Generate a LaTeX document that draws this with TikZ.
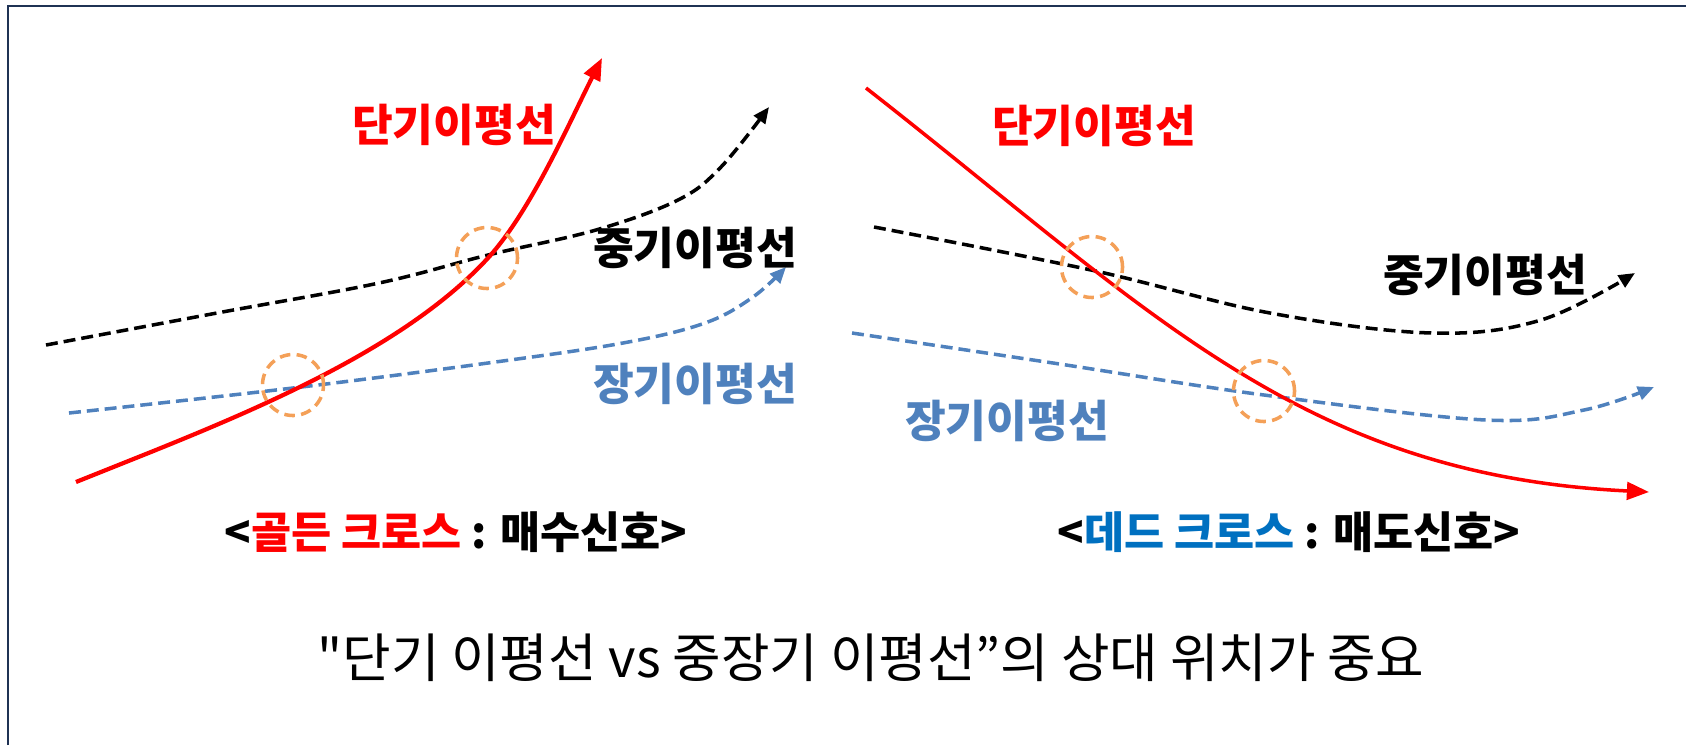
\documentclass[tikz,border=0pt]{standalone}
\usepackage{fontspec}
\setmainfont{Noto Sans CJK KR}[Ligatures=TeXOff]
\usetikzlibrary{arrows.meta}
\definecolor{cdangi}{RGB}{255,0,0}
\definecolor{cjanggi}{RGB}{79,129,189}
\definecolor{ccruce}{RGB}{244,160,88}
\definecolor{cdead}{RGB}{0,112,192}
\definecolor{cmarco}{RGB}{31,50,84}

\begin{document}
\begin{tikzpicture}[x=0.01cm, y=-0.01cm,
    corto/.style={draw=cdangi, line width=1.2pt, -{Triangle[length=6.3pt, width=5pt]}},
    medio/.style={draw=black, line width=1pt, dash pattern=on 3.4pt off 1.7pt, -{Triangle[length=4.6pt, width=3.9pt]}},
    largo/.style={medio, draw=cjanggi, -{Triangle[length=4.6pt, width=3.9pt, fill=cjanggi]}},
    cruce/.style={draw=ccruce, line width=1pt, dash pattern=on 3pt off 1.8pt, circle, minimum size=0.61cm, inner sep=0pt},
    etiq/.style={font=\fontsize{12.6}{14}\selectfont\bfseries, inner sep=0pt},
    pie/.style={font=\fontsize{12.4}{14}\selectfont\bfseries, inner sep=0pt}]

  \useasboundingbox (0,0) rectangle (1686,745);
  % marco
  \draw[cmarco, line width=0.7pt] (8,745) -- (8,6) -- (1686,6);

  % golden cross
  \draw[medio] plot[smooth, tension=0.6] coordinates {(46,345) (217,313) (379,283) (488,255) (596,230) (678,200) (721,167) (769,107)};
  \draw[largo] plot[smooth, tension=0.6] coordinates {(69,413) (293,388) (488,363) (623,343) (705,323) (753,297) (786,267)};
  \draw[corto] (76,482) .. controls (215,426) and (393,361) .. (488,258)
               .. controls (531,211) and (569,123) .. (602,58);
  \node[cruce] (gcA) at (293,385) {};
  \node[cruce] (gcB) at (487,258) {};

  \node[etiq, text=cdangi] (dangiL) at (454,125) {단기이평선};
  \node[etiq, text=black] (junggiL) at (695,248) {중기이평선};
  \node[etiq, text=cjanggi] (janggiL) at (695,384) {장기이평선};

  % dead cross
  \draw[medio] plot[smooth, tension=0.6] coordinates {(874,227) (1091,270) (1270,313) (1432,333) (1541,320) (1635,273)};
  \draw[largo] plot[smooth, tension=0.6] coordinates {(852,333) (1053,363) (1264,395) (1486,420) (1584,410) (1654,387)};
  \draw[corto, line width=1pt] (866,88) .. controls (1150,310) and (1300,475) .. (1649,492);
  \node[cruce] (dcA) at (1092,267) {};
  \node[cruce] (dcB) at (1264,391) {};

  \node[etiq, text=cdangi] (dangiR) at (1094,126) {단기이평선};
  \node[etiq, text=black] (junggiR) at (1485,275) {중기이평선};
  \node[etiq, text=cjanggi] (janggiR) at (1007,421) {장기이평선};

  % textos
  \node[pie] (golden) at (456,532) {<\textcolor{cdangi}{골든 크로스} : 매수신호>};
  \node[pie] (dead) at (1289,532) {<\textcolor{cdead}{데드 크로스} : 매도신호>};
  \node[font=\fontsize{15}{17}\selectfont, inner sep=0pt] (nota) at (871,658) {"단기 이평선 vs 중장기 이평선”의 상대 위치가 중요};
\end{tikzpicture}
\end{document}
